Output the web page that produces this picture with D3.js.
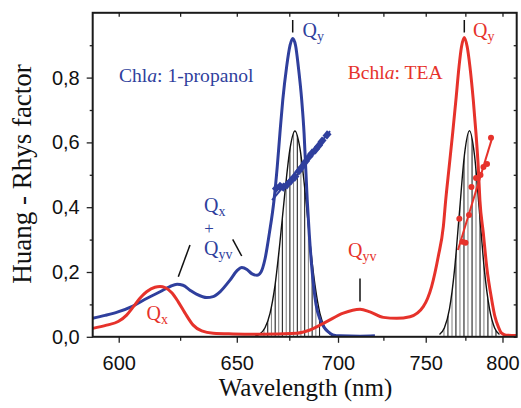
<!DOCTYPE html>
<html>
<head>
<meta charset="utf-8">
<script src="https://cdn.jsdelivr.net/npm/d3@7"></script>
<style>
  body { margin: 0; background: #fff; }
  svg text { font-family: "Liberation Serif", "Times New Roman", serif; }
  .tick text { font-family: "Liberation Sans", Arial, sans-serif; font-size: 20px; fill: #111; }
  .tick line { stroke: #222; stroke-width: 1.3; }
</style>
</head>
<body>
<script>
// ---- data ----
var waveTicks = [600, 650, 700, 750, 800];
var waveMinor = [625, 675, 725, 775];
var hrTicks = [0, 0.2, 0.4, 0.6, 0.8];
var hrMinor = [0.1, 0.3, 0.5, 0.7, 0.9];

// Chla in 1-propanol [nm, HR]
var chlaNm = [590.0, 594.7, 599.7, 605.6, 611.3, 616.6, 620.7, 623.7, 626.2, 629.2, 632.2, 636.5, 639.3, 642.4, 646.9, 650.1, 652.3, 654.7, 657.1, 659.4, 661.3, 663.2, 665.3, 667.5, 669.1, 670.4, 671.8, 673.7, 675.4, 676.7, 678.1, 679.5, 681.2, 682.4, 683.2, 684.0, 685.0, 686.3, 688.5, 690.5, 692.6, 694.9, 697.3, 701.1, 711.9, 720.2];
var chlaHR = [0.057, 0.066, 0.077, 0.095, 0.119, 0.139, 0.155, 0.162, 0.159, 0.144, 0.131, 0.121, 0.124, 0.139, 0.175, 0.204, 0.214, 0.208, 0.194, 0.19, 0.2, 0.24, 0.32, 0.42, 0.525, 0.628, 0.731, 0.834, 0.9, 0.921, 0.9, 0.834, 0.731, 0.628, 0.525, 0.422, 0.32, 0.216, 0.1, 0.055, 0.03, 0.015, 0.006, 0.003, 0.002, 0.003];

// Bchla in TEA
var bchlNm = [590.0, 595.3, 599.8, 603.1, 605.8, 608.4, 611.1, 614.5, 616.6, 618.7, 621.5, 624.2, 627.1, 630.6, 634.3, 639.4, 648.3, 660.8, 678.7, 685.4, 694.0, 702.8, 711.9, 717.4, 725.0, 732.7, 740.5, 748.5, 753.6, 757.7, 760.9, 762.4, 764.6, 766.8, 768.9, 770.9, 772.5, 774.3, 776.2, 778.0, 780.2, 782.0, 783.5, 784.6, 786.9, 789.2, 792.6, 794.8, 797.2, 799.4, 802.4, 810.0];
var bchlHR = [0.026, 0.036, 0.047, 0.067, 0.093, 0.119, 0.139, 0.153, 0.155, 0.152, 0.136, 0.108, 0.073, 0.036, 0.018, 0.011, 0.009, 0.008, 0.011, 0.021, 0.047, 0.073, 0.085, 0.077, 0.06, 0.057, 0.062, 0.093, 0.155, 0.247, 0.34, 0.422, 0.525, 0.628, 0.731, 0.834, 0.895, 0.924, 0.895, 0.834, 0.731, 0.628, 0.525, 0.422, 0.32, 0.216, 0.114, 0.062, 0.03, 0.011, 0.005, 0.004];

// black envelopes of the stick spectra
var envChlNm = [658.5, 660.8, 663.2, 665.6, 668.0, 670.4, 672.9, 675.4, 677.8, 680.3, 682.9, 685.4, 688.0, 690.5, 693.1, 695.7, 698.4];
var envChlHR = [0.002, 0.009, 0.028, 0.0725, 0.158, 0.291, 0.449, 0.582, 0.635, 0.582, 0.449, 0.291, 0.158, 0.0725, 0.028, 0.009, 0.002];
var envBchlNm = [758.5, 761.6, 764.8, 768.0, 771.2, 774.4, 777.7, 781.0, 784.3, 787.6, 791.1, 794.5, 797.9];
var envBchlHR = [0.007, 0.028, 0.086, 0.2065, 0.386, 0.561, 0.636, 0.561, 0.386, 0.2065, 0.086, 0.028, 0.007];

// stick positions
var sticksChl = [662.7, 664.5, 666.3, 668.1, 669.8, 671.6, 673.5, 675.3, 677.1, 679.0, 680.8, 682.7, 684.6, 686.5, 688.4, 690.3];
var sticksBchl = [761.3, 763.8, 766.4, 768.9, 771.5, 774.1, 776.7, 779.4, 782.0, 784.7, 787.3, 790.0, 792.8, 795.5];

// blue square markers and fit line
var chlMarkNm = [668.7, 670.4, 672.1, 673.9, 675.8, 677.8, 679.8, 681.3, 683.1, 684.9, 686.4, 688.2, 689.8, 691.6, 694.2];
var chlMarkHR = [0.459, 0.464, 0.462, 0.469, 0.481, 0.493, 0.512, 0.524, 0.540, 0.555, 0.567, 0.577, 0.589, 0.604, 0.623];
var chlFitNm = [666.6, 695.8];
var chlFitHR = [0.422, 0.635];

// red circle markers and fit line
var bchlMarkNm = [771.1, 773.1, 775.1, 777.4, 779.0, 782.0, 785.0, 787.0, 789.4, 792.1];
var bchlMarkHR = [0.364, 0.293, 0.290, 0.376, 0.462, 0.490, 0.499, 0.524, 0.533, 0.614];
var bchlFitNm = [770.2, 793.1];
var bchlFitHR = [0.268, 0.617];

var blue = "#2f3f9d", red = "#e6322b";

// ---- layout ----
var width = 521, height = 408;
var pLeft = 92.7, pRight = 516.7, pTop = 12.8, pBottom = 336.8;

var svg = d3.select("body").append("svg")
  .attr("width", width)
  .attr("height", height);

// x axis is linear in wavenumber, labelled in nm
var xw = d3.scaleLinear().domain([1e7 / 590, 1e7 / 810]).range([pLeft, pRight]);
var x = function(nm) { return xw(1e7 / nm); };
var y = d3.scaleLinear().domain([0, 1]).range([pBottom, pTop]);

svg.append("clipPath").attr("id", "plot")
  .append("rect").attr("x", pLeft).attr("y", pTop).attr("width", pRight - pLeft).attr("height", pBottom - pTop);

var zip = function(a, b) { return a.map(function(d, i) { return [d, b[i]]; }); };
var line = d3.line().x(function(d) { return x(d[0]); }).y(function(d) { return y(d[1]); }).curve(d3.curveMonotoneX);
var area = d3.area().x(function(d) { return x(d[0]); }).y0(y(0)).y1(function(d) { return y(d[1]); }).curve(d3.curveMonotoneX);

var plot = svg.append("g").attr("clip-path", "url(#plot)");

// stick spectra
function sticks(id, envNm, envHR, pos) {
  var env = zip(envNm, envHR);
  svg.append("clipPath").attr("id", id).append("path").attr("d", area(env));
  plot.append("g").attr("clip-path", "url(#" + id + ")")
    .selectAll("line").data(pos).enter().append("line")
    .attr("x1", function(d) { return x(d); }).attr("x2", function(d) { return x(d); })
    .attr("y1", y(0)).attr("y2", y(0.8))
    .attr("stroke", function(d, i) { return i % 2 ? "#222" : "#8a8a8a"; })
    .attr("stroke-width", 1.1);
  plot.append("path").attr("d", line(env))
    .attr("fill", "none").attr("stroke", "#111").attr("stroke-width", 1.4);
}
sticks("envChl", envChlNm, envChlHR, sticksChl);
sticks("envBchl", envBchlNm, envBchlHR, sticksBchl);

plot.append("path").attr("d", line(zip(chlaNm, chlaHR)))
  .attr("fill", "none").attr("stroke", blue).attr("stroke-width", 3);
plot.append("path").attr("d", line(zip(bchlNm, bchlHR)))
  .attr("fill", "none").attr("stroke", red).attr("stroke-width", 3);

// markers
var straight = d3.line().x(function(d) { return x(d[0]); }).y(function(d) { return y(d[1]); });
plot.append("path").attr("d", straight(zip(chlFitNm, chlFitHR)))
  .attr("stroke", blue).attr("stroke-width", 2);
plot.selectAll(".sq").data(zip(chlMarkNm, chlMarkHR)).enter().append("rect")
  .attr("class", "sq")
  .attr("x", function(d) { return x(d[0]) - 3.5; }).attr("y", function(d) { return y(d[1]) - 3; })
  .attr("width", 7).attr("height", 6)
  .attr("transform", function(d) { return "rotate(-50," + x(d[0]) + "," + y(d[1]) + ")"; })
  .attr("fill", blue);

plot.append("path").attr("d", straight(zip(bchlFitNm, bchlFitHR)))
  .attr("stroke", red).attr("stroke-width", 2);
plot.selectAll(".dot").data(zip(bchlMarkNm, bchlMarkHR)).enter().append("circle")
  .attr("class", "dot")
  .attr("cx", function(d) { return x(d[0]); }).attr("cy", function(d) { return y(d[1]); })
  .attr("r", 3).attr("fill", red);

// ---- axes ----
var inv = function(d) { return 1e7 / d; };
var fmt = function(v) { return d3.format(".1f")(v).replace(".", ","); };

svg.append("g").attr("transform", "translate(0," + pBottom + ")")
  .call(d3.axisBottom(xw).tickValues(waveTicks.map(inv)).tickSize(6).tickPadding(13)
    .tickFormat(function(d) { return Math.round(1e7 / d); }));
svg.append("g").attr("transform", "translate(0," + pBottom + ")")
  .call(d3.axisBottom(xw).tickValues(waveMinor.map(inv)).tickSize(4).tickFormat(""));
svg.append("g").attr("transform", "translate(0," + pTop + ")")
  .call(d3.axisTop(xw).tickValues(waveTicks.concat(waveMinor).map(inv)).tickSize(-4).tickFormat(""));

svg.append("g").attr("transform", "translate(" + pLeft + ",0)")
  .call(d3.axisLeft(y).tickValues(hrTicks).tickSize(6).tickPadding(7).tickFormat(fmt));
svg.append("g").attr("transform", "translate(" + pLeft + ",0)")
  .call(d3.axisLeft(y).tickValues(hrMinor).tickSize(3).tickFormat(""));
svg.append("g").attr("transform", "translate(" + pRight + ",0)")
  .call(d3.axisRight(y).tickValues(hrTicks.concat(hrMinor)).tickSize(-3).tickFormat(""));

svg.selectAll(".domain").remove();

svg.append("rect")
  .attr("x", pLeft).attr("y", pTop).attr("width", pRight - pLeft).attr("height", pBottom - pTop)
  .attr("fill", "none").attr("stroke", "#1a1a1a").attr("stroke-width", 2);

// axis titles
svg.append("text")
  .attr("transform", "translate(31," + 174 + ") rotate(-90)")
  .attr("text-anchor", "middle").attr("font-size", 27).attr("fill", "#111")
  .text("Huang - Rhys factor");
svg.append("text")
  .attr("x", 305.5).attr("y", 396)
  .attr("text-anchor", "middle").attr("font-size", 25).attr("fill", "#111")
  .text("Wavelength (nm)");

// ---- annotations ----
function label(px, py, parts, color, size) {
  var t = svg.append("text").attr("x", px).attr("y", py).attr("fill", color).attr("font-size", size);
  parts.forEach(function(p) {
    var s = t.append("tspan").text(p.t);
    if (p.it) s.attr("font-style", "italic");
    if (p.sub) s.attr("font-size", size * 0.7).attr("dy", p.dy);
  });
  return t;
}
label(119, 82, [{t: "Chl"}, {t: "a", it: true}, {t: ": 1-propanol"}], blue, 19.6);
label(347.7, 78.5, [{t: "Bchl"}, {t: "a", it: true}, {t: ": TEA"}], red, 19.6);

label(302.5, 37, [{t: "Q"}, {t: "y", sub: true, dy: 4}], blue, 20);
label(473, 37, [{t: "Q"}, {t: "y", sub: true, dy: 4}], red, 20);
label(204, 212, [{t: "Q"}, {t: "x", sub: true, dy: 4}], blue, 20);
svg.append("text").attr("x", 209).attr("y", 234).attr("text-anchor", "middle")
  .attr("fill", blue).attr("font-size", 17).text("+");
label(204, 255, [{t: "Q"}, {t: "yv", sub: true, dy: 4}], blue, 20);
label(146.5, 320, [{t: "Q"}, {t: "x", sub: true, dy: 4}], red, 20);
label(348, 257, [{t: "Q"}, {t: "yv", sub: true, dy: 4}], red, 20);

// pointer strokes
var strokes = [
  [292.7, 20, 292.7, 32.5],
  [464.3, 20, 464.3, 32.5],
  [178.3, 276.7, 190, 245],
  [232.7, 239.3, 241.7, 256],
  [360, 278.5, 360, 301.5]
];
svg.selectAll(".ptr").data(strokes).enter().append("line")
  .attr("x1", function(d) { return d[0]; }).attr("y1", function(d) { return d[1]; })
  .attr("x2", function(d) { return d[2]; }).attr("y2", function(d) { return d[3]; })
  .attr("stroke", "#111").attr("stroke-width", 1.5);
</script>
</body>
</html>
